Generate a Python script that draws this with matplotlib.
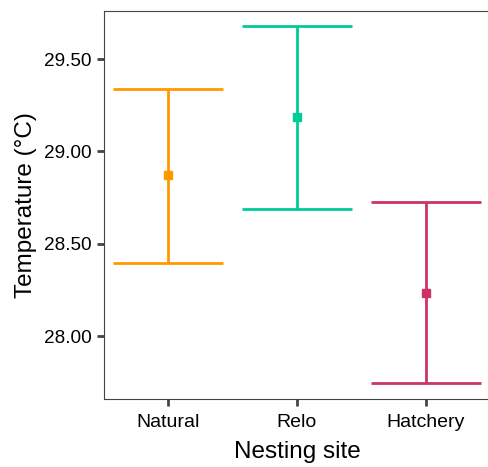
import matplotlib
matplotlib.use("Agg")
import matplotlib.pyplot as plt

sites = ["Natural", "Relo", "Hatchery"]
means = [28.87, 29.184, 28.235]
upper = [29.337, 29.68, 28.725]
lower = [28.395, 28.69, 27.745]
colors = ["#FF9900", "#00CC99", "#CC3366"]
yticks = [28.0, 28.5, 29.0, 29.5]

plt.rcParams['font.family'] = ['Liberation Sans', 'DejaVu Sans']

fig = plt.figure(figsize=(4.89, 4.67), dpi=100)
ax = fig.add_axes([104 / 489, 1 - 399 / 467, 386 / 489, 388 / 467])

for i, site in enumerate(sites):
    x = i + 1
    err = [[means[i] - lower[i]], [upper[i] - means[i]]]
    ax.errorbar([x], [means[i]], yerr=err, color=colors[i], lw=2, capsize=39.5,
                capthick=2, fmt="s", markersize=6)

ax.set_xlim(0.5, 3.5)
ax.set_ylim(27.66, 29.76)
ax.set_xticks([1, 2, 3])
ax.set_xticklabels(sites)
ax.set_yticks(yticks)
ax.set_yticklabels(["%.2f" % t for t in yticks])
ax.tick_params(axis="both", length=5, width=2, color="#444444", labelsize=13.7,
               labelcolor="black", pad=4)
ax.tick_params(axis="x", labelsize=14, pad=6)
for s in ax.spines.values():
    s.set_color("#444444")
    s.set_linewidth(0.8)
ax.set_xlabel("Nesting site", fontsize=17.5, labelpad=7)
ax.set_ylabel("Temperature (°C)", fontsize=17.5, labelpad=5)

fig.savefig("out.png", dpi=100)
